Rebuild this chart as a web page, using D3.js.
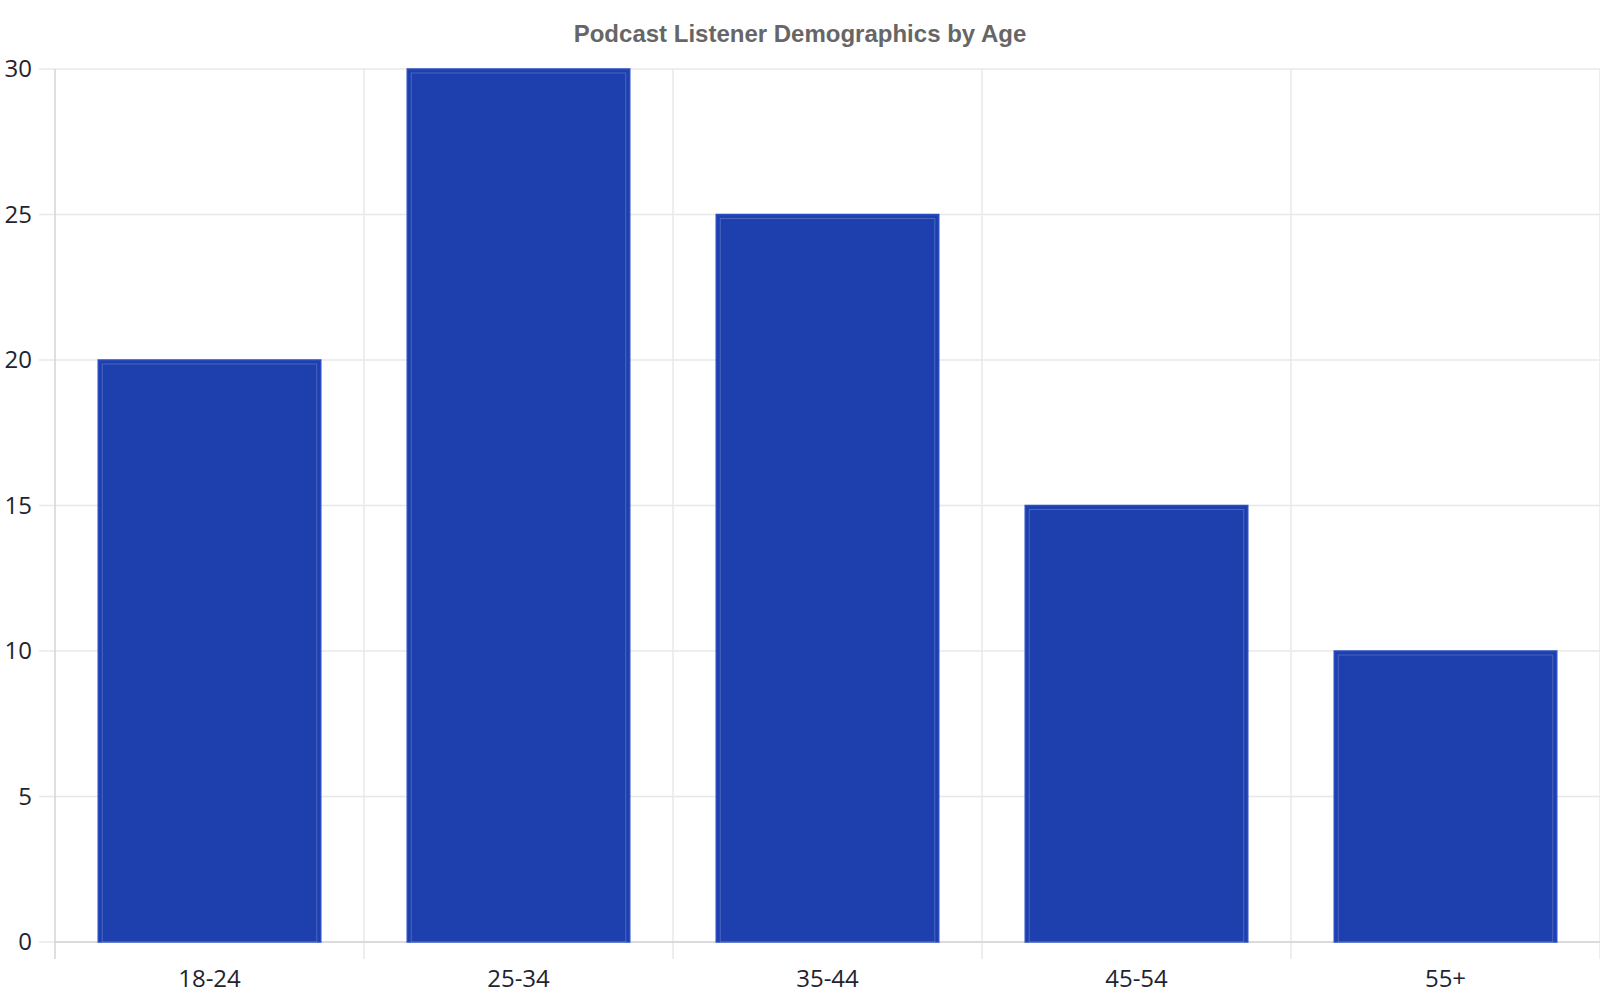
<!DOCTYPE html>
<html><head><meta charset="utf-8">
<script src="https://cdn.jsdelivr.net/npm/d3@7"></script>
<style>html,body{margin:0;padding:0;background:#fff;}svg{display:block;}</style>
</head><body>
<svg id="chart" width="1600" height="1000"></svg>
<script>
const categories = ["18-24", "25-34", "35-44", "45-54", "55+"];
const values = [20, 30, 25, 15, 10];
const yTicks = [0, 5, 10, 15, 20, 25, 30];
const title = "Podcast Listener Demographics by Age";

const svg = d3.select("#chart");
const m = {left: 55, right: 0, top: 69, bottom: 58};
const W = 1600, H = 1000;
const x = d3.scaleBand().domain(categories).range([m.left, W - m.right]).paddingInner(0.28).paddingOuter(0.14);
const xb = d3.scaleBand().domain(categories).range([m.left, W - m.right]);
const y = d3.scaleLinear().domain([0, 30]).range([H - m.bottom, m.top]);

// title
svg.append("text").attr("x", 800).attr("y", 42).attr("text-anchor", "middle")
  .attr("font-family", "Liberation Sans, Arial, sans-serif").attr("font-weight", "bold")
  .attr("font-size", 24).attr("fill", "#666").text(title);

// horizontal grid
svg.append("g").selectAll("line").data(yTicks).join("line")
  .attr("x1", m.left - 16).attr("x2", W).attr("y1", d => y(d)).attr("y2", d => y(d))
  .attr("stroke", "#e8e8e8").attr("stroke-width", 1.5);
// vertical grid (band boundaries)
const vx = categories.map(c => xb(c)).concat([W]);
svg.append("g").selectAll("line").data(vx.slice(1)).join("line")
  .attr("x1", d => d).attr("x2", d => d).attr("y1", m.top).attr("y2", H - m.bottom + 17)
  .attr("stroke", "#e8e8e8").attr("stroke-width", 1.5);

// axes lines
svg.append("line").attr("x1", m.left).attr("x2", m.left).attr("y1", m.top).attr("y2", H - m.bottom + 17)
  .attr("stroke", "#d4d4d4").attr("stroke-width", 1.5);
svg.append("line").attr("x1", m.left).attr("x2", W).attr("y1", y(0)).attr("y2", y(0))
  .attr("stroke", "#d4d4d4").attr("stroke-width", 1.5);

// y labels
const yAxis = d3.axisLeft(y).tickValues(yTicks).tickSize(0).tickPadding(0);
const gy = svg.append("g").attr("transform", `translate(${m.left - 23},0)`).call(yAxis);
gy.select(".domain").remove();
gy.selectAll("text").attr("font-family", "Open Sans, Noto Sans, sans-serif").attr("font-size", 24).attr("fill", "#1f2430");

// x labels
const xAxis = d3.axisBottom(x).tickSize(0).tickPadding(0);
const gx = svg.append("g").attr("transform", `translate(0,${y(0) + 28})`).call(xAxis);
gx.select(".domain").remove();
gx.selectAll("text").attr("font-family", "Open Sans, Noto Sans, sans-serif").attr("font-size", 24).attr("fill", "#1f2430");

// bars
const bars = svg.append("g").selectAll("g").data(categories.map((c, i) => ({c, v: values[i]}))).join("g");
bars.append("rect")
  .attr("x", d => x(d.c)).attr("width", x.bandwidth())
  .attr("y", d => y(d.v)).attr("height", d => y(0) - y(d.v))
  .attr("fill", "#1e40af").attr("stroke", "#2a4dc4").attr("stroke-width", 1.5);
bars.append("rect")
  .attr("x", d => x(d.c) + 4).attr("width", x.bandwidth() - 8)
  .attr("y", d => y(d.v) + 4).attr("height", d => y(0) - y(d.v) - 4)
  .attr("fill", "none").attr("stroke", "rgba(255,255,255,0.2)").attr("stroke-width", 1);
</script>
</body></html>
